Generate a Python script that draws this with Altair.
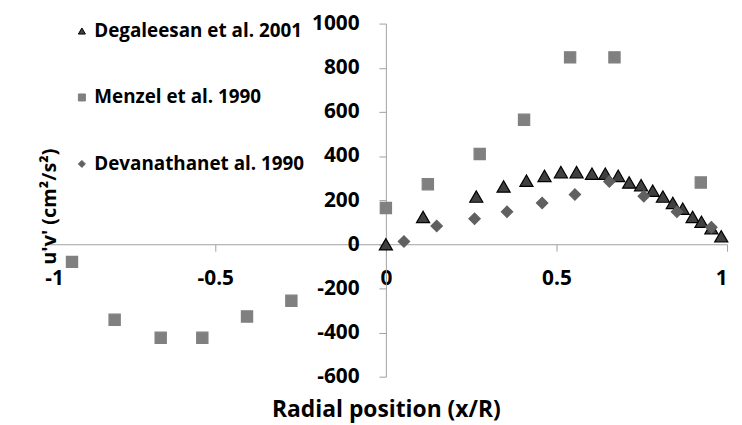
import altair as alt
import pandas as pd

# ---- data ----
deg_x = [0, 0.109, 0.265, 0.345, 0.412, 0.465, 0.513, 0.559, 0.604, 0.643, 0.681,
         0.713, 0.748, 0.782, 0.812, 0.841, 0.870, 0.899, 0.925, 0.954, 0.983]
deg_y = [0, 124, 216, 262, 288, 310, 327, 327, 320, 320, 310,
         280, 268, 243, 216, 187, 161, 124, 102, 73, 36]

men_x = [-0.92, -0.795, -0.66, -0.538, -0.407, -0.277, 0, 0.123, 0.275, 0.405, 0.54, 0.67, 0.923]
men_y = [-80, -342, -424, -424, -327, -256, 164, 272, 409, 564, 847, 847, 280]

dev_x = [0.053, 0.149, 0.26, 0.355, 0.458, 0.554, 0.655, 0.756, 0.853, 0.954]
dev_y = [13, 83, 116, 147, 187, 225, 284, 218, 147, 77]

series_names = ["Degaleesan et al. 2001", "Menzel et al. 1990", "Devanathanet al. 1990"]
x_ticks = [-1, -0.5, 0, 0.5, 1]
y_ticks = [-600, -400, -200, 0, 200, 400, 600, 800, 1000]
x_domain = [-1, 1]
y_domain = [-600, 1000]

rows = []
for name, xs, ys in zip(series_names, [deg_x, men_x, dev_x], [deg_y, men_y, dev_y]):
    for a, b in zip(xs, ys):
        rows.append({"series": name, "x": a, "y": b})
df = pd.DataFrame(rows)

W, H = 688, 356
FONT = "Open Sans"
AX = "#a0a0a0"

# place the axes so that they cross at the origin
off_x_axis = -H * (0 - y_domain[0]) / (y_domain[1] - y_domain[0])
off_y_axis = -W * (0 - x_domain[0]) / (x_domain[1] - x_domain[0])

fills = ["#404040", "#808080", "#606060"]
strokes = ["#000000", "#808080", "#606060"]
shapes = ["triangle-up", "square", "diamond"]
sizes = [175, 128, 130]

x_enc = alt.X("x:Q", scale=alt.Scale(domain=x_domain, nice=False, zero=False),
              axis=alt.Axis(values=x_ticks, labelExpr="datum.value + ''", grid=False,
                            offset=off_x_axis, domainColor=AX, tickColor=AX, tickSize=7,
                            labelPadding=17, labelFont=FONT, labelFontSize=21,
                            labelFontWeight="bold", labelColor="#000000",
                            title="Radial position (x/R)", titleFont=FONT, titleFontSize=23,
                            titleFontWeight="bold", titleColor="#000000",
                            titleY=-off_x_axis + 33, titleBaseline="middle"))
y_enc = alt.Y("y:Q", scale=alt.Scale(domain=y_domain, nice=False, zero=False),
              axis=alt.Axis(values=y_ticks, labelExpr="datum.value + ''", grid=False,
                            offset=off_y_axis, domainColor=AX, tickColor=AX, tickSize=7,
                            labelPadding=20, labelFont=FONT, labelFontSize=21,
                            labelFontWeight="bold", labelColor="#000000",
                            title="u'v' (cm²/s²)", titleFont=FONT, titleFontSize=20,
                            titleFontWeight="bold", titleColor="#000000",
                            titleX=off_y_axis + 5, titleY=H / 2 + 6, titleBaseline="middle",
                            titleAngle=270))

legend = alt.Legend(title=None, orient="none", legendX=28, legendY=-2,
                    rowPadding=47, labelFont=FONT, labelFontSize=19, labelLimit=0,
                    labelFontWeight="bold", labelColor="#000000",
                    symbolSize=50, labelOffset=3, padding=0, symbolStrokeWidth=1)

base = alt.Chart(df).encode(
    x=x_enc,
    y=y_enc,
    fill=alt.Fill("series:N", scale=alt.Scale(domain=series_names, range=fills), legend=legend),
    stroke=alt.Stroke("series:N", scale=alt.Scale(domain=series_names, range=strokes), legend=legend),
    shape=alt.Shape("series:N", scale=alt.Scale(domain=series_names, range=shapes), legend=legend),
)

layers = []
for name, sz in zip(series_names, sizes):
    layers.append(
        base.transform_filter(alt.datum.series == name)
        .mark_point(filled=True, strokeWidth=1.2, opacity=1, size=sz)
    )

chart = alt.layer(*layers).properties(
    width=W, height=H,
    autosize=alt.AutoSizeParams(type="none"),
    padding={"left": 37, "top": 14, "right": 7, "bottom": 45},
).configure_view(stroke=None)

chart.save("out.html", embed_options={"renderer": "svg", "actions": False})
